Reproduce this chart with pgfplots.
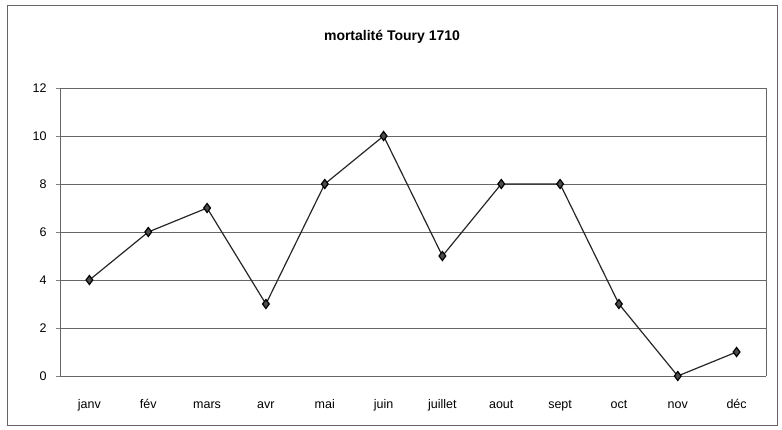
\documentclass[border=0pt]{standalone}
\usepackage{fontspec}
\setmainfont{Liberation Sans}
\usepackage{pgfplots}
\pgfplotsset{compat=1.18}
\begin{document}
\begin{tikzpicture}[x=1pt,y=1pt]
\path (0,0) rectangle (782,429);
\draw[black!60, line width=0.8pt] (7,4) rectangle (777,424);
\node[font=\bfseries\fontsize{14}{16}\selectfont] at (392,392) {mortalité Toury 1710};
\begin{axis}[
  at={(60pt,53pt)}, anchor=south west,
  width=706pt, height=288pt, scale only axis,
  xmin=-0.5, xmax=11.5, ymin=0, ymax=12,
  xtick={0,...,11},
  xticklabels={janv,fév,mars,avr,mai,juin,juillet,aout,sept,oct,nov,déc},
  extra x ticks={-0.5,0.5,1.5,2.5,3.5,4.5,5.5,6.5,7.5,8.5,9.5,10.5,11.5},
  extra x tick labels={},
  extra x tick style={major tick length=5pt, tick style={black}, tick align=outside},
  major x tick style={draw=none},
  ytick={0,2,...,12},
  ymajorgrids, grid style={black!60, line width=0.8pt},
  tick align=outside, major tick length=4pt,
  ytick pos=left, xtick pos=bottom,
  axis line style={black!60, line width=0.8pt},
  axis y line*=left, axis x line*=bottom,
  tick label style={font=\fontsize{12.5}{14}\selectfont},
  xticklabel style={text height=9pt, text depth=3pt, yshift=-16pt},
  yticklabel style={xshift=-6pt},
  /pgf/number format/assume math mode=true,
  clip=false,
]
\draw[black!60, line width=0.8pt] (axis cs:11.5,0) -- (axis cs:11.5,12);
\addplot[black!85, line width=1.2pt, mark=diamond*, mark size=4.5pt,
  mark options={fill=black!70, draw=black}] coordinates {
(0,4) (1,6) (2,7) (3,3) (4,8) (5,10) (6,5) (7,8) (8,8) (9,3) (10,0) (11,1)};
\end{axis}
\end{tikzpicture}
\end{document}
